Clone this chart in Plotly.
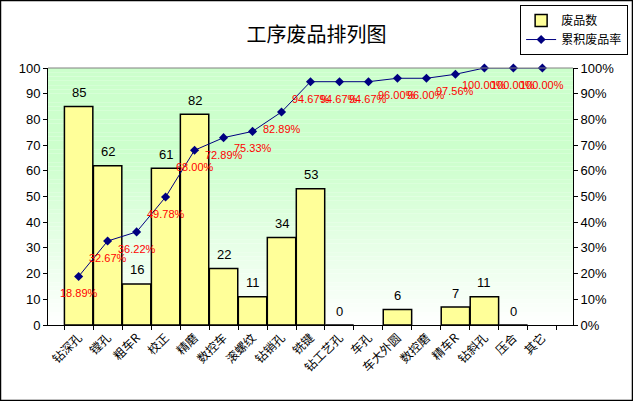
import plotly.graph_objects as go

categories = ["钻深孔", "镗孔", "粗车R", "校正", "精磨", "数控车", "滚螺纹", "钻销孔", "铣键",
              "钻工艺孔", "车孔", "车大外圆", "数控磨", "精车R", "钻斜孔", "压合", "其它"]
defects = [85, 62, 16, 61, 82, 22, 11, 34, 53, 0, None, 6, None, 7, 11, 0, None]
cum_rate = [0.1889, 0.3267, 0.3622, 0.4978, 0.6800, 0.7289, 0.7533, 0.8289, 0.9467,
            0.9467, 0.9467, 0.9600, 0.9600, 0.9756, 1.0, 1.0, 1.0]

font_main = "Arial, Liberation Sans, Noto Sans CJK SC"

fig = go.Figure()

fig.add_trace(go.Bar(
    x=categories, y=defects, name="废品数",
    marker=dict(color="#ffff99", line=dict(color="black", width=1.5)),
))

fig.add_trace(go.Scatter(
    x=categories, y=cum_rate, name="累积废品率", yaxis="y2",
    mode="lines+markers",
    line=dict(color="#000080", width=1),
    marker=dict(symbol="diamond", size=7, color="#000080"),
    cliponaxis=False,
))

annotations = []
for c, v in zip(categories, defects):
    if v is None:
        continue
    annotations.append(dict(x=c, y=v, xref="x", yref="y", text=str(v), showarrow=False,
                            yshift=14, font=dict(size=13, color="black")))
for c, r in zip(categories, cum_rate):
    annotations.append(dict(x=c, y=r, xref="x", yref="y2", text="%.2f%%" % (r * 100),
                            showarrow=False, yshift=-17, font=dict(size=11, color="red")))

# gradient background: light green at top fading to white near the bottom
shapes = []
n = 60
for i in range(n):
    t = (i + 0.5) / n
    f = min(1.0, max(0.0, t / 0.65))
    r = int(round(255 + (204 - 255) * f))
    b = int(round(255 + (204 - 255) * f))
    shapes.append(dict(type="rect", xref="paper", yref="paper",
                       x0=0, x1=1, y0=i / n, y1=(i + 1) / n,
                       fillcolor="rgb(%d,255,%d)" % (r, b),
                       line=dict(width=0), layer="below"))
shapes.append(dict(type="line", xref="paper", yref="paper", x0=0, x1=1, y0=1, y1=1,
                   line=dict(color="#808080", width=1)))
shapes.append(dict(type="rect", xref="paper", yref="paper",
                   x0=-0.0905, x1=1.1133, y0=-0.2938, y1=1.2626,
                   line=dict(color="black", width=1.5)))

fig.update_layout(
    width=633, height=401,
    margin=dict(l=48, r=60, t=68, b=76, autoexpand=False),
    paper_bgcolor="white", plot_bgcolor="rgba(0,0,0,0)",
    font=dict(family=font_main, size=12, color="black"),
    title=dict(text="工序废品排列图", x=0.5, xanchor="center", y=0.913, yanchor="middle",
               font=dict(size=20, family="Noto Sans CJK SC")),
    bargap=0.02,
    showlegend=True,
    legend=dict(x=1.105, xanchor="right", y=1.245, yanchor="top",
                bordercolor="black", borderwidth=1, bgcolor="white",
                font=dict(size=12, family="Noto Sans CJK SC"),
                tracegroupgap=0, itemwidth=30),
    xaxis=dict(type="category", tickangle=-45, ticks="outside", tickson="boundaries",
               ticklen=4, tickcolor="black", showline=True, linecolor="black", linewidth=1,
               tickfont=dict(size=12, family="Noto Sans CJK SC"), showgrid=False),
    yaxis=dict(range=[0, 100], dtick=10, ticks="outside", ticklen=4, tickcolor="black",
               showline=True, linecolor="black", linewidth=1, showgrid=False,
               zeroline=False, tickfont=dict(size=13)),
    yaxis2=dict(range=[0, 1], dtick=0.1, tickformat=".0%", overlaying="y", side="right",
                ticks="outside", ticklen=4, tickcolor="black", showline=True,
                linecolor="black", linewidth=1, showgrid=False, zeroline=False,
                tickfont=dict(size=13)),
    shapes=shapes,
    annotations=annotations,
)

fig.write_html("out.html", config={"displayModeBar": False},
               post_script="document.body.style.margin='0';")
